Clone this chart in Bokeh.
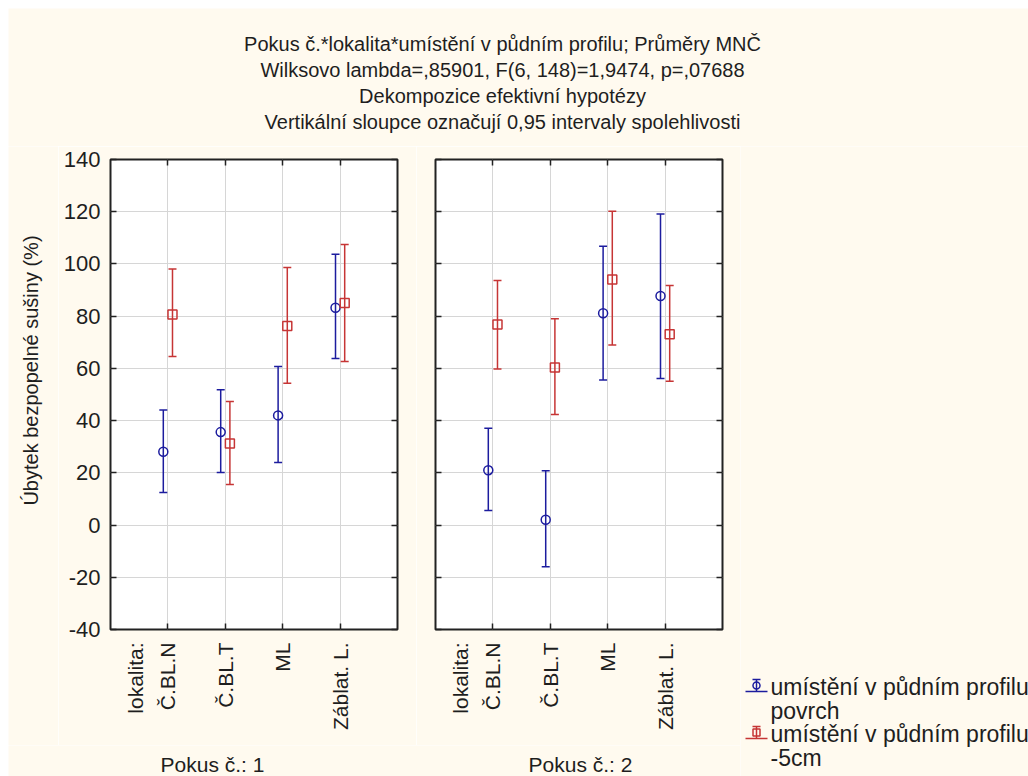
import numpy as np
from bokeh.plotting import figure
from bokeh.layouts import column, row
from bokeh.models import (Range1d, FixedTicker, LinearAxis, Grid, Whisker, TeeHead,
                          ColumnDataSource, CustomJSTickFormatter, Spacer)
from bokeh.core.properties import value
from bokeh.embed import file_html
from bokeh.resources import INLINE

# ---------------- data ----------------
title_lines = [
    "Pokus č.*lokalita*umístění v půdním profilu; Průměry MNČ",
    "Wilksovo lambda=,85901, F(6, 148)=1,9474, p=,07688",
    "Dekompozice efektivní hypotézy",
    "Vertikální sloupce označují 0,95 intervaly spolehlivosti",
]
localities = ["Č.BL.N", "Č.BL.T", "ML", "Záblat. L."]
# the first label has an extra (blank) line so that "Č.BL.N" sits on its tick
tick_labels = ["lokalita:\nČ.BL.N\n ", "Č.BL.T", "ML", "Záblat. L."]
panel_labels = ["Pokus č.: 1", "Pokus č.: 2"]
y_label = "Úbytek bezpopelné sušiny (%)"
series_labels = [["umístění v půdním profilu", "povrch"],
                 ["umístění v půdním profilu", "-5cm"]]
y_ticks = [-40, -20, 0, 20, 40, 60, 80, 100, 120, 140]

# Pokus č. 1
p1_povrch_mean = [28.1, 35.6, 42.0, 83.2]
p1_povrch_lo = [12.5, 20.1, 24.0, 63.8]
p1_povrch_hi = [44.1, 51.8, 60.7, 103.7]
p1_5cm_mean = [80.6, 31.2, 76.2, 85.0]
p1_5cm_lo = [64.6, 15.5, 54.3, 62.6]
p1_5cm_hi = [98.1, 47.3, 98.6, 107.4]
# Pokus č. 2
p2_povrch_mean = [21.0, 2.0, 81.1, 87.7]
p2_povrch_lo = [5.6, -16.0, 55.6, 56.1]
p2_povrch_hi = [37.1, 20.8, 106.8, 119.1]
p2_5cm_mean = [76.8, 60.3, 94.0, 73.1]
p2_5cm_lo = [59.8, 42.3, 69.0, 55.1]
p2_5cm_hi = [93.7, 79.0, 120.2, 91.7]

# ---------------- style ----------------
BG = "#fffaef"
FONT = "Liberation Sans"
TXT = "#1e1e1e"
BLUE = "#1c1c9e"
RED = "#c63535"
GRID = "#d6d6d6"
FRAME_W, FRAME_H = 287, 470
X0, X1 = 0, 5
Y0, Y1 = -40, 140
B_TOP, B_BOTTOM = 13, 116


def blank_axis(ticker):
    return LinearAxis(ticker=ticker, formatter=CustomJSTickFormatter(code="return ''"),
                      major_tick_in=6, major_tick_out=0, minor_tick_line_color=None,
                      axis_line_color=None, major_tick_line_color="#222",
                      major_tick_line_width=1.5, major_label_standoff=0,
                      major_label_text_font_size="0px")


def pixel_fig(w, h):
    f = figure(width=w, height=h, x_range=Range1d(0, w), y_range=Range1d(0, h),
               x_axis_type=None, y_axis_type=None, output_backend="svg",
               toolbar_location=None, min_border=0, background_fill_color=BG,
               border_fill_color=BG, outline_line_color=None, frame_align=False)
    return f


def make_panel(series, show_y, b_left, b_right):
    p = figure(frame_width=FRAME_W, frame_height=FRAME_H,
               x_range=Range1d(X0, X1), y_range=Range1d(Y0, Y1),
               x_axis_type=None, y_axis_type=None,
               output_backend="svg", toolbar_location=None,
               min_border_left=b_left, min_border_right=b_right,
               min_border_top=B_TOP, min_border_bottom=B_BOTTOM,
               background_fill_color="white", border_fill_color=BG,
               outline_line_color="#222", outline_line_width=2)
    xt = FixedTicker(ticks=list(range(1, len(localities) + 1)))
    yt = FixedTicker(ticks=y_ticks)
    p.add_layout(Grid(dimension=0, ticker=xt, grid_line_color=GRID))
    p.add_layout(Grid(dimension=1, ticker=yt, grid_line_color=GRID))
    xa = LinearAxis(ticker=xt,
                    formatter=CustomJSTickFormatter(args=dict(labels=tick_labels),
                                                    code="return labels[Math.round(tick) - 1]"),
                    major_tick_in=6, major_tick_out=0, minor_tick_line_color=None,
                    axis_line_color=None, major_tick_line_color="#222",
                    major_tick_line_width=1.5, major_label_standoff=13,
                    major_label_orientation=np.pi / 2, major_label_text_font=FONT,
                    major_label_text_font_size="21px", major_label_text_color=TXT,
                    major_label_text_line_height=1.4)
    p.add_layout(xa, "below")
    p.add_layout(blank_axis(xt), "above")
    p.add_layout(blank_axis(yt), "right")
    if show_y:
        ya = LinearAxis(ticker=yt, formatter=CustomJSTickFormatter(code="return tick.toString()"),
                        major_tick_in=6, major_tick_out=0,
                        minor_tick_line_color=None, axis_line_color=None,
                        major_tick_line_color="#222", major_tick_line_width=1.5,
                        major_label_standoff=10, major_label_text_font=FONT,
                        major_label_text_font_size="22px", major_label_text_color=TXT)
        p.add_layout(ya, "left")
    else:
        p.add_layout(blank_axis(yt), "left")

    xs = np.arange(1, len(localities) + 1)
    off = 0.08
    for mean, lo, hi, col, marker, sign in series:
        src = ColumnDataSource(dict(x=xs + sign * off, m=mean, lo=lo, hi=hi))
        head = dict(size=8, line_color=col, line_width=1.5)
        p.add_layout(Whisker(source=src, base="x", upper="hi", lower="lo",
                             dimension="height", line_color=col, line_width=1.5,
                             upper_head=TeeHead(**head), lower_head=TeeHead(**head)))
        p.scatter("x", "m", source=src, marker=marker, size=9, fill_color=None,
                  line_color=col, line_width=1.5)
    return p


p1 = make_panel([(p1_povrch_mean, p1_povrch_lo, p1_povrch_hi, BLUE, "circle", -1),
                 (p1_5cm_mean, p1_5cm_lo, p1_5cm_hi, RED, "square", 1)], True, 52, 19)
p2 = make_panel([(p2_povrch_mean, p2_povrch_lo, p2_povrch_hi, BLUE, "circle", -1),
                 (p2_5cm_mean, p2_5cm_lo, p2_5cm_hi, RED, "square", 1)], False, 19, 18)

PANEL_H = B_TOP + FRAME_H + B_BOTTOM  # 599

# y-axis title
ylab = pixel_fig(50, PANEL_H)
ylab.text(x=[22], y=[PANEL_H - 224], text=[y_label], angle=np.pi / 2, text_align="center",
          text_baseline="middle", text_font=value(FONT), text_font_size="20px",
          text_color=TXT)

# panel captions under the category labels
strip = pixel_fig(732, 31)
strip.text(x=[204, 572], y=[31 - 19, 31 - 19], text=panel_labels, text_align="center",
           text_baseline="middle", text_font=value(FONT), text_font_size="21px",
           text_color=TXT)

# ---------------- title ----------------
TW, TH = 1020, 138
tf = pixel_fig(TW, TH)
tsrc = ColumnDataSource(dict(x=[494] * len(title_lines),
                             y=[TH - 35, TH - 61, TH - 87, TH - 113], t=title_lines))
tf.text(x="x", y="y", text="t", source=tsrc, text_align="center", text_baseline="middle",
        text_font=value(FONT), text_font_size="20px", text_color=TXT)

# ---------------- legend ----------------
LW, LH = 288, 630
lg = pixel_fig(LW, LH)
for k, (lines, col, marker) in enumerate(zip(series_labels, [BLUE, RED], ["circle", "square"])):
    yc = 539 + k * 47  # distance from top
    yb, yt_ = LH - (yc + 6), LH - (yc - 6)
    lg.segment(x0=[5], y0=[yb], x1=[27], y1=[yb], line_color=col, line_width=1.5)
    lg.segment(x0=[16], y0=[yb], x1=[16], y1=[yt_], line_color=col, line_width=1.5)
    lg.segment(x0=[12], y0=[yt_], x1=[20], y1=[yt_], line_color=col, line_width=1.5)
    lg.scatter(x=[16], y=[LH - yc], marker=marker, size=7, fill_color=None, line_color=col,
               line_width=1.5)
    lg.text(x=[30, 30], y=[LH - (yc + 1), LH - (yc + 25)], text=lines, text_align="left",
            text_baseline="middle", text_font=value(FONT), text_font_size="23px",
            text_color=TXT)

left_block = column(row(ylab, p1, p2, spacing=0), strip, spacing=0)
main = column(tf, row(left_block, lg, spacing=0), spacing=0)
layout = column(Spacer(height=8), row(Spacer(width=8), main, spacing=0), spacing=0)
open("out.html", "w").write(file_html(layout, INLINE))
